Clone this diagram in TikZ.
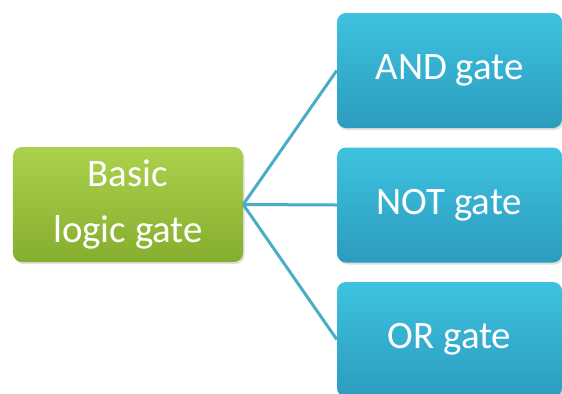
\documentclass[tikz,border=0pt]{standalone}
\usepackage{fontspec}
\setmainfont{Carlito}
\usetikzlibrary{shadows}
\definecolor{gtop}{HTML}{AAD24C}
\definecolor{gbot}{HTML}{86AE2E}
\definecolor{btop}{HTML}{3EC2E0}
\definecolor{bbot}{HTML}{2C9CBE}
\definecolor{linkc}{HTML}{4BACC6}
\tikzset{
  basebox/.style={rounded corners=9bp, inner sep=0pt, text=white,
    font=\fontsize{39}{57}\selectfont, align=center,
    drop shadow={shadow xshift=1.5bp, shadow yshift=-2bp, opacity=0.25}},
  greenbox/.style={basebox, top color=gtop, bottom color=gbot,
    minimum width=230bp, minimum height=115bp},
  bluebox/.style={basebox, top color=btop, bottom color=bbot,
    minimum width=225bp, minimum height=115bp},
  link/.style={draw=linkc, line width=3bp}
}
\begin{document}
\begin{tikzpicture}[x=1bp,y=-1bp]
\useasboundingbox (0,0) rectangle (562,393);
\clip (0,0) rectangle (562,393);
\node[greenbox] (basic) at (128,204.5) {Basic\\logic gate};
\node[bluebox] (and) at (449.5,70.5) {AND gate};
\node[bluebox] (not) at (449.5,205) {NOT gate};
\node[bluebox] (or) at (449.5,339.5) {OR gate};
\draw[link] (basic.east) -- (and.west);
\draw[link] (basic.east) -- (not.west);
\draw[link] (basic.east) -- (or.west);
\end{tikzpicture}
\end{document}
